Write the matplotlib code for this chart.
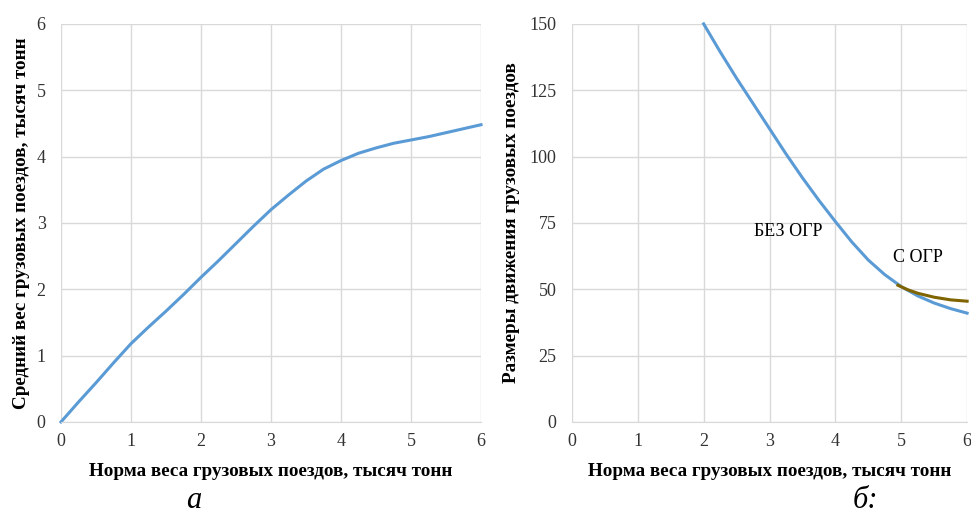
import numpy as np
import matplotlib.pyplot as plt

plt.rcParams['font.family'] = ['Liberation Serif', 'DejaVu Serif']

# panel a: average train weight vs weight norm
xA = [0, 0.25, 0.5, 0.75, 1, 1.25, 1.5, 1.75, 2, 2.25, 2.5, 2.75, 3,
      3.25, 3.5, 3.75, 4, 4.25, 4.5, 4.75, 5, 5.25, 5.5, 5.75, 6]
yA = [0, 0.3, 0.59, 0.89, 1.18, 1.43, 1.67, 1.92, 2.18, 2.43, 2.69, 2.95, 3.2,
      3.42, 3.63, 3.81, 3.94, 4.05, 4.13, 4.2, 4.25, 4.3, 4.36, 4.42, 4.48]

# panel b: train traffic volume vs weight norm
xB = [2, 2.25, 2.5, 2.75, 3, 3.25, 3.5, 3.75, 4, 4.25, 4.5, 4.75, 5,
      5.25, 5.5, 5.75, 6]
yB = [150, 139.5, 129.5, 120, 110.5, 101, 92, 83.5, 75.5, 67.8, 61, 55.5, 51,
      47.5, 44.8, 42.7, 41]
xC = [4.95, 5.1, 5.25, 5.5, 5.75, 6]
yC = [51.5, 49.8, 48.5, 47, 46, 45.5]

xlabel = "Норма веса грузовых поездов, тысяч тонн"

blue = '#5b9bd5'
olive = '#7f6400'
gridc = '#d9d9d9'

fig = plt.figure(figsize=(9.71, 5.19), dpi=100)
axA = fig.add_axes([0.0628, 0.187, 0.4326, 0.767])
axB = fig.add_axes([0.589, 0.187, 0.407, 0.767])

def style(ax):
    for s in ['top', 'right', 'left']:
        ax.spines[s].set_visible(False)
    ax.spines['bottom'].set_color(gridc)
    ax.grid(True, color=gridc, linewidth=1)
    ax.set_axisbelow(True)
    ax.tick_params(length=0, labelsize=13, colors='#333333')
    ax.tick_params(axis='x', pad=8)
    ax.tick_params(axis='y', pad=11)
    ax.set_xlim(0, 6)
    ax.set_xticks(range(7))

style(axA)
axA.plot(xA, yA, color=blue, linewidth=2.2, clip_on=False)
axA.set_ylim(0, 6)
axA.set_yticks(range(7))
axA.set_xlabel(xlabel, fontsize=13.8, fontweight='bold', labelpad=9)
axA.set_ylabel("Средний вес грузовых поездов, тысяч тонн", fontsize=13.8,
               fontweight='bold', labelpad=5)

style(axB)
axB.plot(xB, yB, color=blue, linewidth=2.2, clip_on=False)
axB.plot(xC, yC, color=olive, linewidth=2.2, clip_on=False)
axB.set_ylim(0, 150)
axB.set_yticks(range(0, 151, 25))
axB.set_xlabel(xlabel, fontsize=13.8, fontweight='bold', labelpad=9)
axB.set_ylabel("Размеры движения грузовых поездов", fontsize=13.8,
               fontweight='bold', labelpad=7)
axB.text(3.29, 71.6, "БЕЗ ОГР", fontsize=13, ha='center', va='center')
axB.text(5.26, 61.8, "С ОГР", fontsize=13, ha='center', va='center')

fig.text(0.199, 0.022, "а", fontsize=22, style='italic', ha='center')
fig.text(0.891, 0.022, "б:", fontsize=22, style='italic', ha='center')

fig.savefig('out.png', dpi=100)
